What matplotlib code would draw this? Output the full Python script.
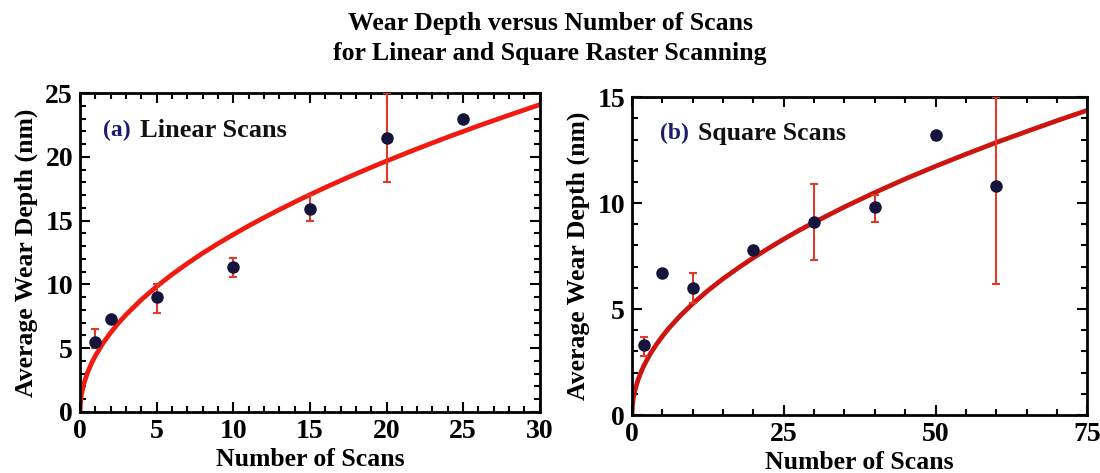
import matplotlib
matplotlib.use('Agg')
import matplotlib.pyplot as plt
from matplotlib.ticker import MultipleLocator

plt.rc('font', family='Liberation Serif', weight='bold')
plt.rc('axes', labelweight='bold')

# (a) linear scans
lin_scans = [1, 2, 5, 10, 15, 20, 25]
lin_depth = [5.5, 7.3, 9.0, 11.4, 15.9, 21.5, 23.0]
lin_err_lo = [0.5, 0.0, 1.2, 0.8, 0.9, 3.5, 0.0]
lin_err_hi = [1.0, 0.0, 1.0, 0.7, 1.1, 3.5, 0.0]
# fit curve
lin_fit_x = [0, 0.05, 0.1, 0.25, 0.5, 0.75, 1, 1.5, 2, 2.5, 3, 4, 5, 6, 7, 8, 9, 10, 11, 12, 13, 14, 15,
             16, 17, 18, 19, 20, 22, 24, 26, 28, 30]
lin_fit_y = [0, 0.98, 1.39, 2.2, 3.11, 3.81, 4.4, 5.39, 6.22, 6.96, 7.62, 8.8, 9.84, 10.78, 11.64, 12.45,
             13.2, 13.91, 14.59, 15.24, 15.86, 16.46, 17.04, 17.6, 18.14, 18.67, 19.18, 19.68, 20.64,
             21.56, 22.44, 23.28, 24.1]

# (b) square scans
sq_scans = [2, 5, 10, 20, 30, 40, 50, 60]
sq_depth = [3.3, 6.7, 6.0, 7.8, 9.1, 9.8, 13.2, 10.8]
sq_err_lo = [0.5, 0.0, 0.7, 0.0, 1.8, 0.7, 0.2, 4.6]
sq_err_hi = [0.4, 0.0, 0.7, 0.0, 1.8, 0.6, 0.1, 4.2]
sq_fit_x = [0, 0.1, 0.25, 0.5, 1, 1.5, 2, 3, 4, 5, 6, 8, 10, 12.5, 15, 17.5, 20, 22.5, 25, 27.5, 30,
            35, 40, 45, 50, 55, 60, 65, 70, 75]
sq_fit_y = [0, 0.52, 0.83, 1.17, 1.66, 2.03, 2.35, 2.88, 3.32, 3.71, 4.07, 4.7, 5.25, 5.87, 6.43, 6.94,
            7.42, 7.87, 8.3, 8.71, 9.09, 9.82, 10.5, 11.14, 11.74, 12.31, 12.86, 13.38, 13.89, 14.38]


def style_axis(ax, xmaj, ymaj):
	ax.xaxis.set_major_locator(MultipleLocator(xmaj))
	ax.xaxis.set_minor_locator(MultipleLocator(xmaj / 5))
	ax.yaxis.set_major_locator(MultipleLocator(ymaj))
	ax.yaxis.set_minor_locator(MultipleLocator(ymaj / 5))
	ax.tick_params(which='both', direction='in', top=True, right=True, width=1.5, labelsize=20)
	ax.tick_params(which='major', length=7, pad=5)
	ax.tick_params(which='minor', length=4)
	for s in ax.spines.values():
		s.set_linewidth(2)
	ax.set_xlabel('Number of Scans', fontsize=18.5, labelpad=3)
	ax.set_ylabel('Average Wear Depth (nm)', fontsize=18.5, labelpad=5)


def draw_panel(ax, x, y, lo, hi, fx, fy, line_color):
	ax.plot(fx, fy, color=line_color, linewidth=3.4, zorder=2, solid_capstyle='round')
	ax.errorbar(x, y, yerr=[lo, hi], fmt='none', ecolor='#e03a2a', elinewidth=1.5, capsize=3, capthick=1.5, zorder=3)
	ax.plot(x, y, 'o', color='#14143c', markersize=8, zorder=4)


fig = plt.figure(figsize=(11, 4.73), dpi=100)
fig.text(0.5, 0.950, 'Wear Depth versus Number of Scans', ha='center', va='center', fontsize=18.5)
fig.text(0.5, 0.887, 'for Linear and Square Raster Scanning', ha='center', va='center', fontsize=18.5)

ax1 = fig.add_axes([0.0727, 0.129, 0.418, 0.674])
draw_panel(ax1, lin_scans, lin_depth, lin_err_lo, lin_err_hi, lin_fit_x, lin_fit_y, '#f01a10')
ax1.set_xlim(0, 30)
ax1.set_ylim(0, 25)
style_axis(ax1, 5, 5)
ax1.text(1.5, 22.1, '(a)', color='#1a1a6e', fontsize=17, va='center')
ax1.text(3.9, 22.1, 'Linear Scans', color='#111111', fontsize=19, va='center')

ax2 = fig.add_axes([0.5745, 0.1226, 0.414, 0.672])
draw_panel(ax2, sq_scans, sq_depth, sq_err_lo, sq_err_hi, sq_fit_x, sq_fit_y, '#cc1510')
ax2.set_xlim(0, 75)
ax2.set_ylim(0, 15)
style_axis(ax2, 25, 5)
ax2.text(4.6, 13.3, '(b)', color='#1a1a6e', fontsize=17, va='center')
ax2.text(10.8, 13.3, 'Square Scans', color='#111111', fontsize=18.5, va='center')

fig.savefig('out.png', dpi=100)
